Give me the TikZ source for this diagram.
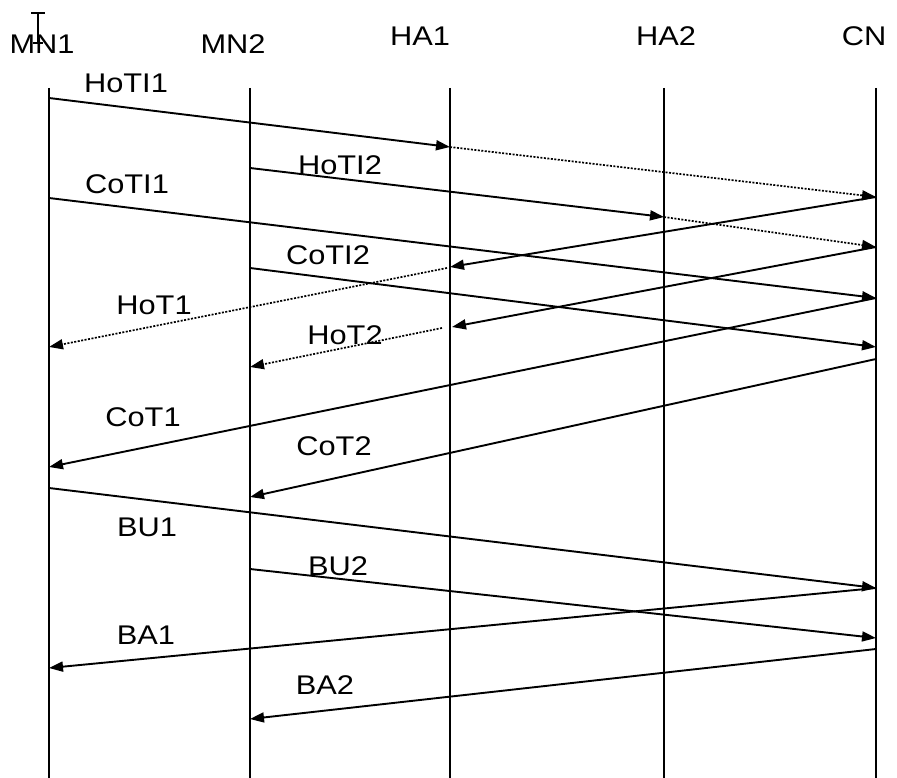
\documentclass[tikz,border=0pt]{standalone}
\usepackage{fontspec}
\setmainfont{Liberation Sans}[FakeStretch=1.14]
\usetikzlibrary{arrows.meta}
\tikzset{
  lbl/.style={font=\fontsize{27}{30}\selectfont, inner sep=0pt, text=black},
  life/.style={line width=2.2pt},
  msg/.style={line width=1.9pt, -{Triangle[length=14pt,width=10pt]}},
  dmsg/.style={msg, line width=1.7pt, dash pattern=on 2pt off 1.5pt},
  cursor/.style={line width=1.4pt}
}
\begin{document}
\begin{tikzpicture}[x=1pt,y=-1pt]
\useasboundingbox (0,0) rectangle (897,778);
% heads
\node[lbl] (MN1) at (42,44) {MN1};
\node[lbl] (MN2) at (233,44) {MN2};
\node[lbl] (HA1) at (420,36) {HA1};
\node[lbl] (HA2) at (666,36) {HA2};
\node[lbl] (CN)  at (864,36) {CN};
% cursor (I-beam)
\draw[cursor] (31,13) -- (45,13);
\draw[cursor] (38,13) -- (38,43);
\draw[cursor] (33,43) -- (43,43);
% lifelines
\coordinate (mn1t) at (49,88);  \coordinate (mn1b) at (49,778);
\coordinate (mn2t) at (250,88); \coordinate (mn2b) at (250,778);
\coordinate (ha1t) at (450,88); \coordinate (ha1b) at (450,778);
\coordinate (ha2t) at (664,88); \coordinate (ha2b) at (664,778);
\coordinate (cnt)  at (876,88); \coordinate (cnb)  at (876,778);
\draw[life] (mn1t) -- (mn1b);
\draw[life] (mn2t) -- (mn2b);
\draw[life] (ha1t) -- (ha1b);
\draw[life] (ha2t) -- (ha2b);
\draw[life] (cnt) -- (cnb);
% message points
\coordinate (a1) at (49,98);   \coordinate (a2) at (450,147); \coordinate (a3) at (876,197);
\coordinate (b1) at (250,168); \coordinate (b2) at (664,217); \coordinate (b3) at (876,247);
\coordinate (c1) at (49,198);  \coordinate (c2) at (876,298);
\coordinate (d1) at (250,268); \coordinate (d2) at (876,347);
\coordinate (e2) at (450,267); \coordinate (e2s) at (447,268); \coordinate (e3) at (49,347);
\coordinate (f2) at (452,327); \coordinate (f2s) at (442,328); \coordinate (f3) at (250,367);
\coordinate (g2) at (49,467);
\coordinate (h1) at (876,359); \coordinate (h2) at (250,497);
\coordinate (i1) at (49,488);  \coordinate (i2) at (876,588);
\coordinate (j1) at (250,569); \coordinate (j2) at (876,638);
\coordinate (k2) at (49,668);
\coordinate (l1) at (876,649); \coordinate (l2) at (250,719);
% messages
\draw[msg] (a1) -- (a2);
\draw[dmsg] (a2) -- (a3);
\draw[msg] (b1) -- (b2);
\draw[dmsg] (b2) -- (b3);
\draw[msg] (c1) -- (c2);
\draw[msg] (d1) -- (d2);
\draw[msg] (a3) -- (e2);
\draw[dmsg] (e2s) -- (e3);
\draw[msg] (b3) -- (f2);
\draw[dmsg] (f2s) -- (f3);
\draw[msg] (c2) -- (g2);
\draw[msg] (h1) -- (h2);
\draw[msg] (i1) -- (i2);
\draw[msg] (j1) -- (j2);
\draw[msg] (i2) -- (k2);
\draw[msg] (l1) -- (l2);
% labels
\node[lbl] (tHoTI1) at (126,83) {HoTI1};
\node[lbl] (tHoTI2) at (340,165) {HoTI2};
\node[lbl] (tCoTI1) at (127,184) {CoTI1};
\node[lbl] (tCoTI2) at (328,255) {CoTI2};
\node[lbl] (tHoT1) at (154,305) {HoT1};
\node[lbl] (tHoT2) at (345,335) {HoT2};
\node[lbl] (tCoT1) at (143,417) {CoT1};
\node[lbl] (tCoT2) at (334,446) {CoT2};
\node[lbl] (tBU1) at (147,527) {BU1};
\node[lbl] (tBU2) at (338,566) {BU2};
\node[lbl] (tBA1) at (146,635) {BA1};
\node[lbl] (tBA2) at (325,685) {BA2};
\end{tikzpicture}
\end{document}
